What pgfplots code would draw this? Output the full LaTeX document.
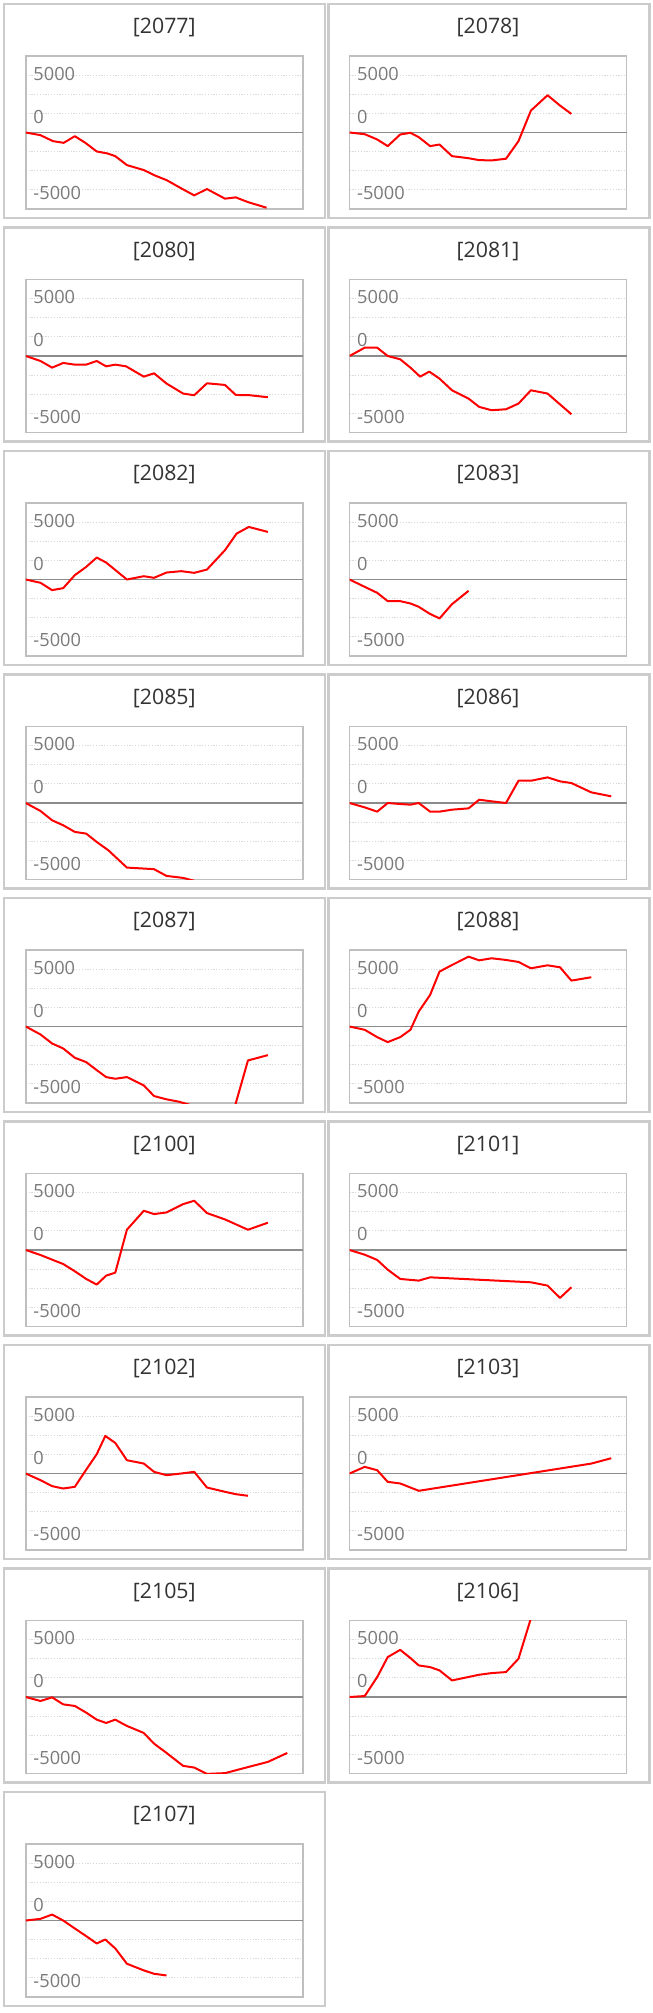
\documentclass[border=0pt]{standalone}
\usepackage{fontspec}
\setmainfont{Open Sans}
\usepackage{pgfplots}
\pgfplotsset{compat=1.18}
\definecolor{outergray}{HTML}{CCCCCC}
\definecolor{boxgray}{HTML}{BFBFBF}
\definecolor{gridgray}{HTML}{D9D9D9}
\definecolor{zerogray}{HTML}{8C8C8C}
\definecolor{labgray}{HTML}{7A7A7A}
\definecolor{titlecol}{HTML}{333333}
\pgfplotsset{panel/.style={
  scale only axis, width=277bp, height=153bp,
  xmin=0, xmax=100, ymin=-10000, ymax=10000,
  xtick=\empty, ytick={-7500,-5000,-2500,2500,5000,7500}, yticklabels={},
  scaled y ticks=false,
  major tick length=0pt,
  ymajorgrids,
  major grid style={draw=gridgray, line width=1bp, dash pattern=on 1.2bp off 1.6bp},
  extra y ticks={0}, extra y tick labels={},
  extra y tick style={grid=major, major grid style={draw=zerogray, line width=1.6bp, solid}},
  axis line style={draw=boxgray, line width=1.6bp},
  title style={font=\fontsize{21.3bp}{26bp}\selectfont, text=titlecol, at={(0.5,1)}, anchor=center, yshift=22.2bp},
  clip=true,
}}
\tikzset{lab/.style={anchor=west, xshift=7.5bp, inner sep=0pt, font=\fontsize{18.2bp}{21bp}\selectfont, text=labgray}}
% #1 outer left, #2 plot left, #3 row top, #4 title, #5 coordinates
\newcommand{\panel}[5]{%
  \draw[draw=outergray, line width=2.5bp] (#1bp,-#3bp) rectangle ++(321bp,-214bp);
  \begin{axis}[panel, at={(#2bp,-#3bp-52bp)}, anchor=north west, title={[#4]}]
    \addplot[red, line width=2bp, line join=round] coordinates {#5};
    \node[lab] at (axis cs:0,7700) {5000};
    \node[lab] at (axis cs:0,2050) {0};
    \node[lab] at (axis cs:0,-7950) {-5000};
  \end{axis}}
\begin{document}
\begin{tikzpicture}
\fill[white] (0,0) rectangle (653bp,-2013bp);
\useasboundingbox (0,0) rectangle (653bp,-2013bp);
% row 1
\panel{4}{25.8}{4}{2077}{(0,0) (5.3,-350) (9.8,-1130) (13.7,-1350) (17.7,-480) (21.5,-1350) (25.6,-2480) (29.5,-2740) (32.3,-3090) (36.5,-4260) (42.6,-4910) (46.5,-5600) (50.8,-6220) (56.6,-7400) (60.8,-8220) (65.4,-7390) (71.9,-8650) (75.8,-8480) (80.2,-9100) (86.9,-9830)}
\panel{328.5}{349.5}{4}{2078}{(0,0) (5.5,-220) (10,-910) (13.8,-1780) (18.3,-260) (22,-40) (25,-610) (29.1,-1780) (32.5,-1570) (37,-3090) (42.8,-3350) (46.8,-3610) (51.3,-3650) (56.5,-3430) (61,-1130) (65.5,2870) (71.5,4870) (76,3520) (80.1,2430)}
% row 2
\panel{4}{25.8}{227.5}{2080}{(0,0) (5.3,-650) (9.5,-1520) (13.5,-910) (17.7,-1130) (21.8,-1130) (25.6,-650) (29,-1350) (32.3,-1130) (36.2,-1350) (42.6,-2700) (46.3,-2260) (50.8,-3600) (56.8,-4910) (60.8,-5130) (65.4,-3570) (71.9,-3780) (75.8,-5090) (80.9,-5130) (87.4,-5390)}
\panel{328.5}{349.5}{227.5}{2081}{(0,0) (5.5,1090) (10,1090) (13.8,0) (18.3,-430) (22,-1520) (25.5,-2700) (28.8,-2040) (32.5,-2960) (37,-4480) (43,-5570) (46.8,-6650) (51.3,-7090) (56.5,-6960) (61,-6220) (65.5,-4480) (71.5,-4910) (80.1,-7610)}
% row 3
\panel{4}{25.8}{451}{2082}{(0,0) (5.3,-430) (9.5,-1390) (13.5,-1130) (17.7,570) (21.8,1650) (25.6,2870) (29,2220) (36.5,0) (42.6,430) (46.3,220) (50.8,910) (56.1,1090) (60.8,870) (65.4,1300) (71.9,3830) (76.1,6000) (80.5,6870) (87.4,6220)}
\panel{328.5}{349.5}{451}{2083}{(0,0) (5.5,-960) (10,-1740) (13.8,-2830) (18.3,-2830) (22,-3130) (25,-3570) (28.8,-4440) (32.5,-5090) (37,-3220) (43,-1480)}
% row 4
\panel{4}{25.8}{674.5}{2085}{(0,0) (5.3,-1040) (9.5,-2260) (13.5,-2910) (17.7,-3780) (21.8,-4000) (25.6,-5090) (29.8,-6180) (36.5,-8440) (42.6,-8570) (46.3,-8650) (50.8,-9530) (56.8,-9790) (65.4,-10600) (87.4,-12500)}
\panel{328.5}{349.5}{674.5}{2086}{(0,0) (5.5,-570) (10,-1130) (13.8,0) (18.3,-130) (22,-220) (25,0) (29.1,-1130) (32.5,-1130) (37,-870) (43,-700) (46.8,430) (51.3,220) (56.5,0) (61,2910) (65.5,2910) (71.5,3350) (76,2830) (80.1,2610) (87.3,1390) (94.5,870)}
% row 5
\panel{4}{25.8}{898}{2087}{(0,0) (5.3,-1040) (9.5,-2220) (13.5,-2870) (17.7,-4090) (21.8,-4650) (25.6,-5700) (29,-6610) (32.3,-6830) (36.5,-6610) (42.6,-7700) (46.3,-9090) (50.8,-9520) (55.3,-9830) (60.8,-10400) (65.4,-10800) (71.9,-15000) (80.2,-4440) (87.4,-3740)}
\panel{328.5}{349.5}{898}{2088}{(0,0) (5.5,-430) (10,-1390) (13.8,-2040) (18.3,-1390) (22,-430) (25,1960) (29.1,4130) (32.5,7180) (37,8040) (43,9130) (46.8,8650) (51.3,8920) (56.5,8700) (61,8440) (65.5,7610) (71.5,8000) (76,7740) (80.1,6000) (87.3,6440)}
% row 6
\panel{4}{25.8}{1121.5}{2100}{(0,0) (5.3,-650) (9.5,-1260) (13.5,-1830) (17.7,-2780) (21.8,-3780) (25.6,-4520) (29,-3350) (32.3,-2960) (36.5,2650) (42.6,5130) (46.3,4700) (50.8,4910) (56.8,6000) (60.8,6440) (65.4,4830) (71.9,4000) (80.2,2650) (87.4,3570)}
\panel{328.5}{349.5}{1121.5}{2101}{(0,0) (5.5,-610) (10,-1300) (13.8,-2570) (18.3,-3780) (25,-4000) (29.1,-3570) (65.5,-4220) (71.5,-4650) (76,-6260) (80.1,-4870)}
% row 7
\panel{4}{25.8}{1345}{2102}{(0,0) (5.3,-870) (9.5,-1650) (13.5,-1960) (17.7,-1740) (21.8,500) (25.6,2520) (28.7,4910) (32.3,4000) (36.5,1740) (42.6,1300) (46.3,220) (50.8,-220) (56.1,0) (60.8,220) (65.4,-1830) (71.9,-2390) (75.8,-2700) (80.2,-2910)}
\panel{328.5}{349.5}{1345}{2103}{(0,0) (5.5,870) (10,430) (13.8,-1090) (18.3,-1300) (25,-2260) (87.3,1300) (94.5,2000)}
% row 8
\panel{4}{25.8}{1568.5}{2105}{(0,0) (5.3,-520) (9.5,-40) (13.5,-960) (17.7,-1170) (21.8,-2040) (25.6,-2960) (29,-3390) (32.3,-2960) (36.5,-3780) (42.6,-4700) (46.3,-6090) (50.8,-7310) (56.8,-9000) (60.8,-9220) (65.4,-10050) (71.9,-9950) (80.5,-9130) (87.4,-8480) (94.4,-7310)}
\panel{328.5}{349.5}{1568.5}{2106}{(0,0) (5.5,130) (10,2610) (13.8,5220) (18.3,6170) (22,5090) (25,4130) (29.1,3910) (32.5,3480) (37,2170) (46.8,2910) (51.3,3130) (56.5,3260) (61,5000) (65.5,10300)}
% row 9
\panel{4}{25.8}{1792}{2107}{(0,0) (5.3,220) (9.5,780) (13.5,0) (17.7,-1040) (21.8,-2040) (25.6,-3000) (28.7,-2480) (32.3,-3650) (36.5,-5650) (42.6,-6520) (46.3,-6960) (50.8,-7180)}
\end{tikzpicture}
\end{document}
